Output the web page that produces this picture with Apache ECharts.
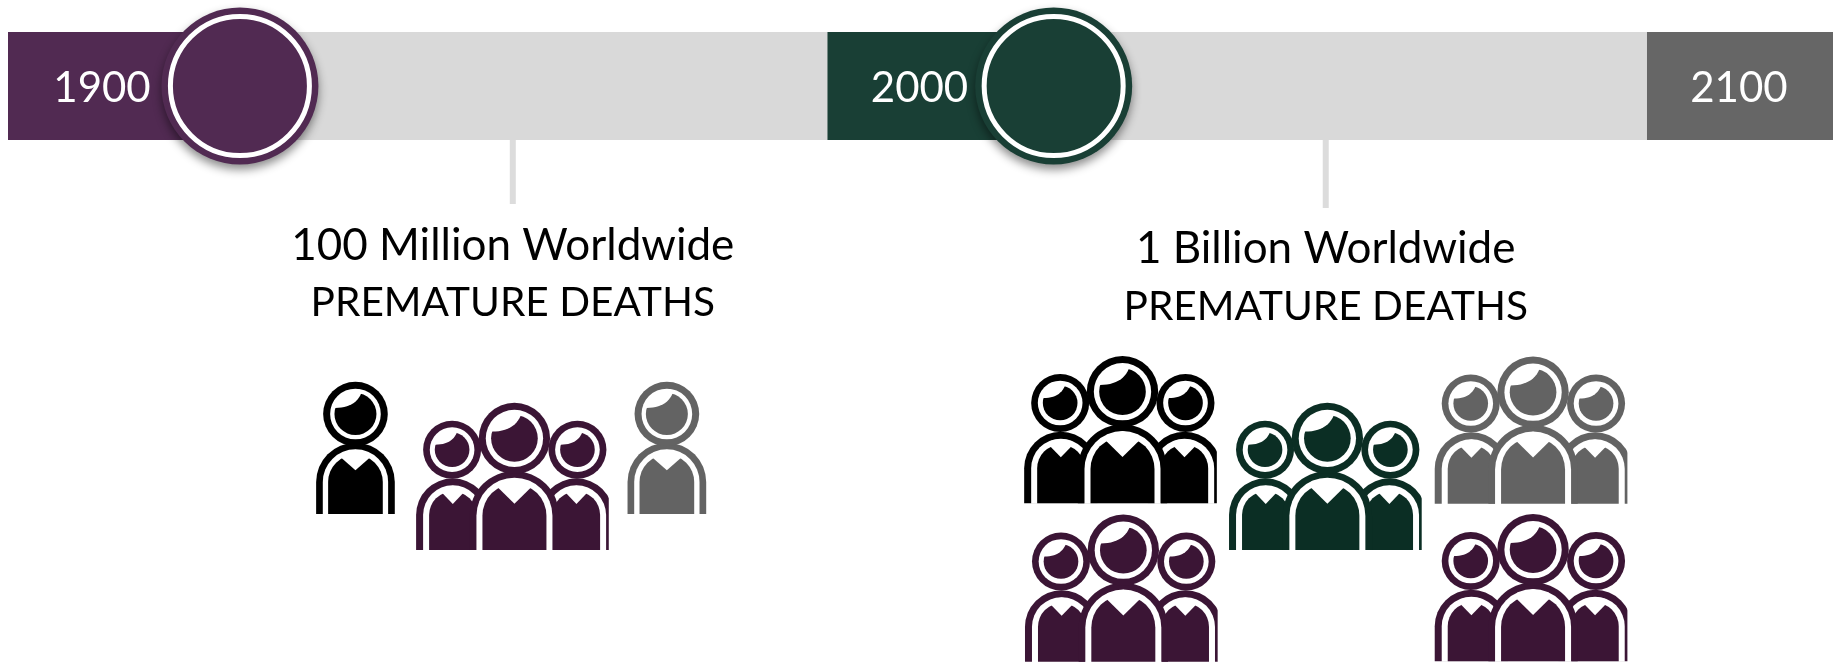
<!DOCTYPE html>
<html>
<head>
<meta charset="utf-8">
<style>html,body{margin:0;padding:0;background:#fff}#chart{width:1841px;height:664px}</style>
<script src="https://cdn.jsdelivr.net/npm/echarts@6/dist/echarts.min.js"></script>
</head>
<body>
<div id="chart"></div>
<script>
// Timeline values, in years
const eraLabels = ['1900', '2000', '2100'];
const eraStarts = [1900, 2000, 2100];
const timelineEnd = 2122.7;
const markerYears = [1928.3, 2027.6];
const calloutYears = [1961.6, 2060.8];

// Callout text
const calloutTotals = ['100 Million Worldwide', '1 Billion Worldwide'];
const calloutCaption = 'PREMATURE DEATHS';

// Palette
const eraColors = ['#512a52', '#193f35', '#666666'];
const trackColor = '#d9d9d9';
const calloutColor = '#dcdcdc';
const inkPurple = '#3b1535', inkGreen = '#0b2e24', inkGray = '#636363', inkBlack = '#000000';

// People pictograms: kind, left edge (year), top (px down the page), ink
const iconKinds = ['one', 'many', 'one', 'many', 'many', 'many', 'many', 'many'];
const iconYears = [1937.6, 1949.8, 1975.6, 2024.0, 2049.0, 2074.1, 2024.1, 2074.1];
const iconTops = [382, 402.7, 382, 356, 402.7, 356.5, 514.5, 514];
const iconInks = [inkBlack, inkPurple, inkGray, inkBlack, inkGreen, inkGray, inkPurple, inkPurple];

const FONT = 'Lato';
const chart = echarts.init(document.getElementById('chart'));

// One figure: body arch with a collared torso, head ring with a fringe cut out of it.
function figure(p, ink) {
  const els = [];
  const disc = (cx, cy, r, fill) => els.push({ type: 'circle', shape: { cx, cy, r }, style: { fill } });
  const arch = (cx, cy, r, bottom, fill) => els.push({
    type: 'rect',
    shape: { x: cx - r, y: cy - r, width: 2 * r, height: bottom - cy + r, r: [r, r, 0, 0] },
    style: { fill }
  });
  arch(p.bx, p.by, p.br, p.bottom, ink);
  arch(p.bx, p.by, p.bw, p.bottom + 1, '#fff');
  arch(p.bx, p.by, p.bf, p.bottom, ink);
  // V-shaped collar: the peaks sit on the torso arc, the cut stays inside the white band
  const peakY = p.by - Math.sqrt(p.bf * p.bf - p.cd * p.cd);
  const capY = p.by - Math.sqrt(p.bw * p.bw - p.cd * p.cd) + 1;
  els.push({
    type: 'polygon',
    shape: { points: [[p.bx - p.cd, peakY], [p.bx, p.vy], [p.bx + p.cd, peakY], [p.bx + p.cd, capY], [p.bx, p.by - p.bw + 1], [p.bx - p.cd, capY]] },
    style: { fill: '#fff' }
  });
  disc(p.hx, p.hy, p.hr, ink);
  disc(p.hx, p.hy, p.hw, '#fff');
  disc(p.hx, p.hy, p.hf, ink);
  const u = p.hf / 62;
  const pts = [];
  for (let i = 0; i <= 12; i++) {
    const t = i / 12, a = (1 - t) * (1 - t), b = 2 * t * (1 - t), c = t * t;
    pts.push([p.hx + u * (a * -60 + b * -1 + c * 17), p.hy + u * (a * -18 + b * -18 + c * -61)]);
  }
  [[12, -73], [-26, -69], [-59, -44], [-71, -18]].forEach(q => pts.push([p.hx + u * q[0], p.hy + u * q[1]]));
  els.push({ type: 'polygon', shape: { points: pts }, style: { fill: '#fff' } });
  return els;
}

const soloShape = { hx: 118, hy: 96, hr: 97, hw: 76, hf: 63, bx: 118, by: 300, br: 118, bw: 98, bf: 82, bottom: 396, cd: 41, vy: 265 };
const sideShape = { hy: 141, hr: 87, hw: 67, hf: 52, by: 337, br: 110, bw: 89, bf: 71, bottom: 442, cd: 30, vy: 304 };
const midShape = { hx: 295, hy: 107, hr: 107, hw: 86, hf: 70, bx: 295, by: 339, br: 134, bw: 114, bf: 96, bottom: 442, cd: 48, vy: 303 };

function iconChildren(kind, ink) {
  if (kind === 'one') return figure(soloShape, ink);
  return [
    ...figure({ ...sideShape, hx: 108, bx: 110 }, ink),
    ...figure({ ...sideShape, hx: 484, bx: 481 }, ink),
    { type: 'rect', shape: { x: 578, y: 200, width: 16, height: 246 }, style: { fill: '#fff' } },
    ...figure(midShape, ink)
  ];
}

const spans = [
  { from: eraStarts[0], to: eraStarts[2], color: trackColor },
  { from: eraStarts[0], to: markerYears[0], color: eraColors[0] },
  { from: eraStarts[1], to: markerYears[1], color: eraColors[1] },
  { from: eraStarts[2], to: timelineEnd, color: eraColors[2] }
];

const option = {
  animation: false,
  grid: { left: 8, top: 0, width: 1825, height: 664 },
  xAxis: { type: 'value', min: 1900, max: timelineEnd, show: false },
  yAxis: { type: 'value', min: 0, max: 664, inverse: true, show: false },
  series: [
    {
      // Timeline track and era bands
      type: 'custom', clip: false, silent: true,
      data: spans.map(s => [s.from, s.to]),
      renderItem(params, api) {
        const s = spans[params.dataIndex];
        const a = api.coord([s.from, 32]), b = api.coord([s.to, 140]);
        return { type: 'rect', shape: { x: a[0], y: a[1], width: b[0] - a[0], height: b[1] - a[1] }, style: { fill: s.color } };
      }
    },
    {
      // Callout stems below the track
      type: 'custom', clip: false, silent: true,
      data: calloutYears.map((y, i) => [y, [204, 208][i]]),
      renderItem(params, api) {
        const a = api.coord([api.value(0), 140]), b = api.coord([api.value(0), api.value(1)]);
        return { type: 'rect', shape: { x: a[0] - 3, y: a[1], width: 6, height: b[1] - a[1] }, style: { fill: calloutColor } };
      }
    },
    {
      // Ringed markers sitting on the track
      type: 'custom', clip: false, silent: true,
      data: markerYears.map(y => [y, 86]),
      renderItem(params, api) {
        const c = api.coord([api.value(0), api.value(1)]);
        const fill = eraColors[params.dataIndex];
        return {
          type: 'group',
          children: [
            { type: 'circle', shape: { cx: c[0], cy: c[1], r: 78.5 }, style: { fill, shadowBlur: 10, shadowOffsetY: 5, shadowColor: 'rgba(0,0,0,0.45)' } },
            { type: 'circle', shape: { cx: c[0], cy: c[1], r: 69.5 }, style: { fill, stroke: '#fff', lineWidth: 5 } }
          ]
        };
      }
    },
    {
      // Era labels on the bands
      type: 'custom', clip: false, silent: true,
      data: eraStarts.map(y => [y, 88]),
      renderItem(params, api) {
        const c = api.coord([api.value(0), api.value(1)]);
        return {
          type: 'text', x: c[0] + [94, 92, 92][params.dataIndex], y: c[1],
          style: { text: eraLabels[params.dataIndex], font: '42px ' + FONT, fill: '#fff', align: 'center', verticalAlign: 'middle' }
        };
      }
    },
    {
      // Callout headlines
      type: 'custom', clip: false, silent: true,
      data: calloutYears.map((y, i) => [y, [245.5, 249][i]]),
      renderItem(params, api) {
        const c = api.coord([api.value(0), api.value(1)]);
        const style = { fill: '#000', align: 'center', verticalAlign: 'middle' };
        return {
          type: 'group',
          children: [
            { type: 'text', x: c[0], y: c[1], style: { ...style, font: '44px ' + FONT, text: calloutTotals[params.dataIndex] } },
            { type: 'text', x: c[0], y: c[1] + 57.5, style: { ...style, font: '40.6px ' + FONT, text: calloutCaption } }
          ]
        };
      }
    },
    {
      // People pictograms
      type: 'custom', clip: false, silent: true,
      data: iconYears.map((y, i) => [y, iconTops[i]]),
      renderItem(params, api) {
        const c = api.coord([api.value(0), api.value(1)]);
        const i = params.dataIndex;
        return { type: 'group', x: c[0], y: c[1], scaleX: 1 / 3, scaleY: 1 / 3, children: iconChildren(iconKinds[i], iconInks[i]) };
      }
    }
  ]
};
chart.setOption(option);
</script>
</body>
</html>
